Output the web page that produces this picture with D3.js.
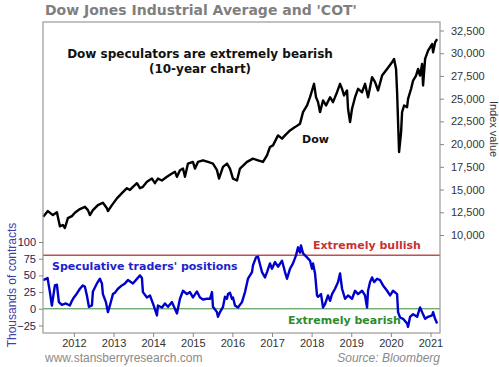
<!DOCTYPE html>
<html>
<head>
<meta charset="utf-8">
<script src="https://cdn.jsdelivr.net/npm/d3@7"></script>
<style>
  html, body { margin: 0; padding: 0; background: #fff; }
  svg { display: block; }
</style>
</head>
<body>
<svg id="chart" width="499" height="367"></svg>
<script>
// ---- Data ----
const dowYears = [2011.225,2011.343,2011.470,2011.571,2011.646,2011.722,2011.773,2011.848,2011.949,2012.025,2012.152,2012.278,2012.354,2012.404,2012.480,2012.606,2012.732,2012.833,2012.859,2012.960,2013.086,2013.212,2013.338,2013.414,2013.490,2013.591,2013.667,2013.742,2013.843,2013.970,2014.045,2014.121,2014.222,2014.348,2014.475,2014.551,2014.601,2014.677,2014.753,2014.803,2014.879,2015.005,2015.056,2015.131,2015.258,2015.384,2015.510,2015.611,2015.662,2015.763,2015.864,2015.939,2016.015,2016.116,2016.192,2016.369,2016.520,2016.646,2016.773,2016.874,2016.949,2017.025,2017.152,2017.253,2017.328,2017.455,2017.581,2017.707,2017.783,2017.884,2017.960,2018.061,2018.111,2018.162,2018.212,2018.288,2018.364,2018.465,2018.540,2018.641,2018.717,2018.768,2018.818,2018.894,2018.919,2018.970,2019.020,2019.096,2019.172,2019.273,2019.348,2019.424,2019.525,2019.601,2019.677,2019.778,2019.904,2020.030,2020.081,2020.131,2020.157,2020.182,2020.207,2020.258,2020.283,2020.333,2020.409,2020.434,2020.510,2020.561,2020.636,2020.687,2020.737,2020.788,2020.813,2020.864,2020.939,2021.040,2021.066,2021.116,2021.167];
const dowValues = [12000,12630,12190,12500,10950,11100,10770,11860,12080,12450,12850,13100,12740,12190,12740,13290,13550,12940,12630,13290,14030,14600,15150,14960,15300,15700,15150,15300,15850,16210,15700,16210,16000,16400,16760,16950,16400,17130,17310,16400,17860,18040,17310,18040,18220,18040,17860,17130,16210,17490,17860,17310,16210,16000,17310,18040,18400,18220,18040,18770,19680,19860,20960,20600,20960,21510,21870,22250,23520,24250,25160,26630,25160,24620,23520,24800,24250,25160,24620,25710,26630,26080,25350,25900,23890,22420,23890,25160,26080,25710,26630,25160,27360,26820,25900,27540,28270,29000,29370,28270,25710,22420,19130,21320,23520,24250,24070,24980,26080,26990,27540,28270,27540,28820,26450,29370,30280,31010,30100,31190,31560];

const cotYears = [2011.225,2011.336,2011.394,2011.444,2011.520,2011.571,2011.621,2011.697,2011.798,2011.899,2011.950,2012.000,2012.076,2012.152,2012.227,2012.278,2012.328,2012.379,2012.455,2012.480,2012.581,2012.657,2012.707,2012.732,2012.808,2012.859,2012.909,2012.985,2013.035,2013.111,2013.212,2013.288,2013.364,2013.490,2013.667,2013.717,2013.742,2013.843,2013.919,2013.995,2014.096,2014.121,2014.222,2014.298,2014.374,2014.475,2014.601,2014.677,2014.753,2014.854,2014.929,2015.005,2015.106,2015.182,2015.258,2015.359,2015.434,2015.485,2015.510,2015.611,2015.636,2015.687,2015.763,2015.813,2015.864,2015.889,2015.940,2015.990,2016.015,2016.066,2016.141,2016.242,2016.318,2016.394,2016.495,2016.520,2016.596,2016.646,2016.747,2016.823,2016.874,2016.949,2017.000,2017.076,2017.152,2017.253,2017.328,2017.379,2017.455,2017.530,2017.606,2017.657,2017.707,2017.730,2017.783,2017.884,2017.960,2018.010,2018.035,2018.086,2018.136,2018.162,2018.237,2018.288,2018.338,2018.414,2018.465,2018.515,2018.591,2018.667,2018.717,2018.768,2018.843,2018.919,2019.020,2019.096,2019.172,2019.273,2019.348,2019.399,2019.424,2019.475,2019.525,2019.576,2019.652,2019.727,2019.803,2019.904,2019.980,2020.056,2020.157,2020.182,2020.232,2020.308,2020.409,2020.434,2020.485,2020.561,2020.662,2020.737,2020.788,2020.864,2020.939,2021.040,2021.066,2021.116,2021.167];
const cotValues = [43,46,25,5,35,36,10,6,8,5,12,17,23,30,35,33,20,3,5,26,38,45,38,22,10,-5,5,22,24,30,35,38,43,38,50,46,25,17,20,8,-10,5,2,8,3,10,-7,15,27,22,25,17,26,17,14,15,15,25,3,-5,-12,-5,3,18,15,22,24,15,17,5,2,10,25,45,55,65,77,78,55,47,55,68,60,70,63,72,55,45,60,68,80,92,84,95,83,77,72,60,68,53,20,18,22,2,7,20,12,22,30,40,53,30,15,20,15,27,22,27,20,2,27,40,47,40,45,43,35,27,20,27,22,-5,-13,-15,-22,-27,-12,-8,-12,2,-5,-15,-12,-10,-5,-15,-22];

const yearTicks = [2012,2013,2014,2015,2016,2017,2018,2019,2020,2021];
const dowTicks = [10000,12500,15000,17500,20000,22500,25000,27500,30000,32500];
const cotTicks = [-25,0,25,50,75,100];
const bullishLevel = 80;
const bearishLevel = 0;

// ---- Layout ----
const L = 43, R = 440, T = 22, B = 333;
const svg = d3.select("#chart");

const x = d3.scaleLinear().domain([2011.22, 2021.24]).range([L, R]);
const yDow = d3.scaleLinear().domain([10000, 32500]).range([235, 30.5]);
const yCot = d3.scaleLinear().domain([-25, 100]).range([325.5, 242]);

// Title
svg.append("text").attr("x", 45).attr("y", 15)
  .attr("font-family", "DejaVu Sans, Verdana, sans-serif").attr("font-weight", "bold")
  .attr("font-size", 14).attr("fill", "#7f7f7f")
  .text("Dow Jones Industrial Average and 'COT'");

// Reference lines
svg.append("line").attr("x1", L).attr("x2", R)
  .attr("y1", yCot(bullishLevel)).attr("y2", yCot(bullishLevel))
  .attr("stroke", "#c0504d").attr("stroke-width", 1.5);
svg.append("line").attr("x1", L).attr("x2", R)
  .attr("y1", yCot(bearishLevel)).attr("y2", yCot(bearishLevel))
  .attr("stroke", "#3a8a3a").attr("stroke-width", 1);

// Lines
const dowData = dowYears.map((d, i) => [d, dowValues[i]]);
const cotData = cotYears.map((d, i) => [d, cotValues[i]]);

svg.append("path").datum(dowData)
  .attr("fill", "none").attr("stroke", "#000").attr("stroke-width", 2.4)
  .attr("stroke-linejoin", "round")
  .attr("d", d3.line().x(d => x(d[0])).y(d => yDow(d[1])));

svg.append("path").datum(cotData)
  .attr("fill", "none").attr("stroke", "#0000cc").attr("stroke-width", 2.4)
  .attr("stroke-linejoin", "round")
  .attr("d", d3.line().x(d => x(d[0])).y(d => yCot(d[1])));

// Frame
svg.append("rect").attr("x", L).attr("y", T).attr("width", R - L).attr("height", B - T)
  .attr("fill", "none").attr("stroke", "#999").attr("stroke-width", 1.2);

// Axes
function styleAxis(g, color) {
  g.select(".domain").remove();
  g.selectAll(".tick line").attr("stroke", "#888");
  g.selectAll(".tick text").attr("font-family", "Liberation Sans, Arial, sans-serif")
    .attr("font-size", 11).attr("fill", color);
}
svg.append("g").attr("transform", `translate(${R},0)`)
  .call(d3.axisRight(yDow).tickValues(dowTicks).tickFormat(d3.format(",")).tickSize(4).tickPadding(7))
  .call(g => styleAxis(g, "#333"));
svg.append("g").attr("transform", `translate(${L},0)`)
  .call(d3.axisLeft(yCot).tickValues(cotTicks).tickSize(4).tickPadding(3))
  .call(g => styleAxis(g, "#222255"));
svg.append("g").attr("transform", `translate(0,${B})`)
  .call(d3.axisBottom(x).tickValues(yearTicks).tickFormat(d3.format("d")).tickSize(4).tickPadding(2))
  .call(g => styleAxis(g, "#333"));

// Axis titles
svg.append("text").attr("transform", "translate(490,129) rotate(90)")
  .attr("text-anchor", "middle").attr("font-family", "Liberation Sans, Arial, sans-serif")
  .attr("font-size", 11).attr("fill", "#333").text("Index value");
svg.append("text").attr("transform", "translate(16,285) rotate(-90)")
  .attr("text-anchor", "middle").attr("font-family", "Liberation Sans, Arial, sans-serif")
  .attr("font-size", 12).attr("fill", "#3f3fa8").text("Thousands of contracts");

// Annotations
const bold = "DejaVu Sans, Verdana, sans-serif";
svg.append("text").attr("x", 200).attr("y", 58).attr("text-anchor", "middle")
  .attr("font-family", bold).attr("font-weight", "bold").attr("font-size", 12).attr("fill", "#111")
  .text("Dow speculators are extremely bearish");
svg.append("text").attr("x", 200).attr("y", 73).attr("text-anchor", "middle")
  .attr("font-family", bold).attr("font-weight", "bold").attr("font-size", 12).attr("fill", "#111")
  .text("(10-year chart)");
svg.append("text").attr("x", 302).attr("y", 143)
  .attr("font-family", bold).attr("font-weight", "bold").attr("font-size", 11).attr("fill", "#111")
  .text("Dow");
svg.append("text").attr("x", 313).attr("y", 249)
  .attr("font-family", bold).attr("font-weight", "bold").attr("font-size", 11).attr("fill", "#c83232")
  .text("Extremely bullish");
svg.append("text").attr("x", 288).attr("y", 324)
  .attr("font-family", bold).attr("font-weight", "bold").attr("font-size", 11).attr("fill", "#2e8b2e")
  .text("Extremely bearish");
svg.append("text").attr("x", 52).attr("y", 270)
  .attr("font-family", bold).attr("font-weight", "bold").attr("font-size", 11).attr("fill", "#2222cc")
  .text("Speculative traders' positions");

// Footer
svg.append("text").attr("x", 45).attr("y", 362)
  .attr("font-family", "Liberation Sans, Arial, sans-serif").attr("font-size", 12).attr("fill", "#8a8a8a")
  .text("www.stansberryresearch.com");
svg.append("text").attr("x", 440).attr("y", 362).attr("text-anchor", "end")
  .attr("font-family", "Liberation Sans, Arial, sans-serif").attr("font-style", "italic")
  .attr("font-size", 12).attr("fill", "#8a8a8a")
  .text("Source: Bloomberg");
</script>
</body>
</html>
